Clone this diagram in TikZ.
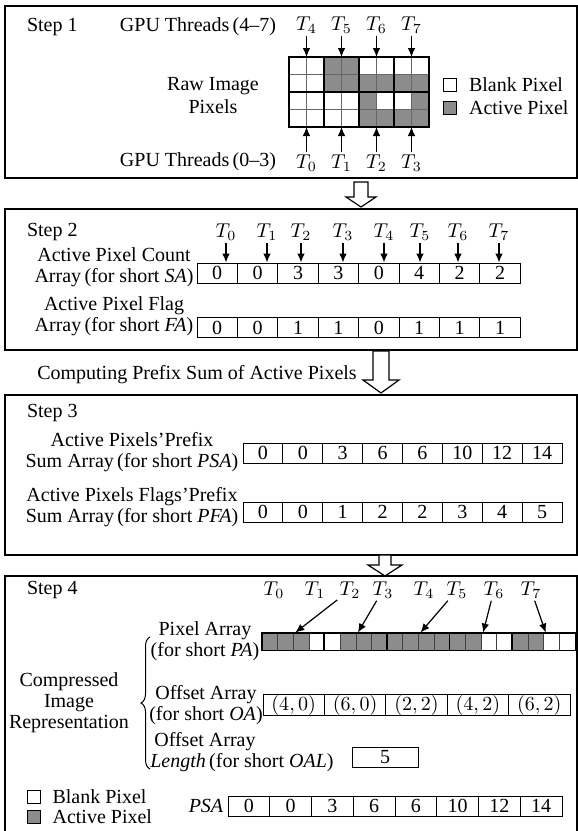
\documentclass[tikz,border=0pt]{standalone}
\usepackage{fontspec}
\setmainfont{Liberation Serif}
\usetikzlibrary{arrows.meta,positioning,decorations.pathreplacing}

\definecolor{pxgray}{RGB}{140,140,140}

\begin{document}
\begin{tikzpicture}[x=0.5pt, y=-0.5pt, font=\fontsize{10}{10.5}\selectfont,
  stepbox/.style={line width=0.8pt},
  numcell/.style={draw, line width=0.5pt, inner sep=0pt, minimum height=10pt},
  pxcell/.style={draw=black!75, line width=0.4pt, inner sep=0pt, minimum width=7.825pt, minimum height=8.5pt},
  tlab/.style={inner sep=1pt},
  arr/.style={-{Latex[length=4.5pt,width=3.8pt]}, line width=0.6pt},
  hollow/.style={draw, fill=white, line width=0.6pt, line join=miter},
  legsq/.style={draw, minimum size=6.5pt, inner sep=0pt, line width=0.5pt},
  lbl/.style={align=center, inner sep=0pt}]
\useasboundingbox (0,0) rectangle (578,831);

% Step 1
\draw[stepbox] (5,6) rectangle (577,178);
\node[anchor=west] (step1) at (20,27) {Step 1};
\node (gpuhi) at (198,27) {GPU Threads\,(4–7)};
\node (gpulo) at (198,162) {GPU Threads\,(0–3)};
\node[lbl, font=\fontsize{10}{11.5}\selectfont] (raw) at (213,96) {Raw Image\\Pixels};

\foreach \row [count=\r from 0] in {{0,0,1,1,0,0,0,0},{0,0,1,1,1,1,1,1},{0,0,0,0,1,0,0,1},{0,0,0,0,1,1,1,1}} {
  \foreach \v [count=\c from 0] in \row {
    \ifnum\v=1 \def\fc{pxgray}\else\def\fc{white}\fi
    \draw[draw=black!60, line width=0.4pt, fill=\fc] ({289+17.5*\c},{57+17.5*\r}) rectangle ++(17.5,17.5);
  }
}
\foreach \c in {0,...,3} {
  \draw[line width=1pt] ({289+35*\c},57) rectangle ++(35,35);
  \draw[line width=1pt] ({289+35*\c},92) rectangle ++(35,35);
  \coordinate (up\c) at ({306.5+35*\c},57);
  \coordinate (dn\c) at ({306.5+35*\c},127);
  \pgfmathtruncatemacro\k{\c+4}
  \node[tlab] (g\k) at ({306.5+35*\c},25) {$T_{\k}$};
  \node[tlab] (g\c) at ({306.5+35*\c},163) {$T_{\c}$};
  \draw[arr] (g\k) -- (up\c);
  \draw[arr] (g\c) -- (dn\c);
}

\node[legsq] (blank1) at (450,85) {};
\node[right=2.5pt of blank1] (blank1t) {Blank Pixel};
\node[legsq, fill=pxgray] (act1) at (450,108) {};
\node[right=2.5pt of act1] (act1t) {Active Pixel};

\coordinate (h1) at (361,182);
\draw[hollow] (h1) -- ++(7,0) -- ++(0,15) -- ++(8,0) -- ++(-15,10) -- ++(-15,-10) -- ++(8,0) -- ++(0,-15) -- cycle;

% Step 2
\draw[stepbox] (5,209) rectangle (577,350);
\node[anchor=west] (step2) at (20,232) {Step 2};
\node[lbl] (salab) at (114,267) {Active Pixel Count\\Array\,(for short \textit{SA})};
\node[lbl] (falab) at (114,316) {Active Pixel Flag\\Array\,(for short \textit{FA})};
\foreach \v [count=\i from 0] in {0,0,3,3,0,4,2,2}
  \node[numcell, minimum width=20.2pt] (sa\i) at ({217.2+40.4*\i},273) {\v};
\foreach \v [count=\i from 0] in {0,0,1,1,0,1,1,1}
  \node[numcell, minimum width=20.2pt] (fa\i) at ({217.2+40.4*\i},327.5) {\v};
\foreach \x [count=\i from 0] in {226,267,301,343,384,420,458,499} {
  \node[tlab] (u\i) at (\x,232) {$T_{\i}$};
  \draw[arr] (u\i) -- (u\i |- sa\i.north);
}

\node (cps) at (197,375) {Computing Prefix Sum of Active Pixels};
\coordinate (h2) at (381,351);
\draw[hollow] (h2) -- ++(8,0) -- ++(0,29) -- ++(10,0) -- ++(-18,13) -- ++(-18,-13) -- ++(10,0) -- ++(0,-29) -- cycle;

% Step 3
\draw[stepbox] (5,395) rectangle (577,555);
\node[anchor=west] (step3) at (20,413) {Step 3};
\node[lbl] (psalab) at (132,452) {Active Pixels’Prefix\\Sum Array\,(for short \textit{PSA})};
\node[lbl] (pfalab) at (132,507) {Active Pixels Flags’Prefix\\Sum Array\,(for short \textit{PFA})};
\foreach \v [count=\i from 0] in {0,0,3,6,6,10,12,14}
  \node[numcell, minimum width=19.94pt] (psa\i) at ({262.94+39.875*\i},453) {\v};
\foreach \v [count=\i from 0] in {0,0,1,2,2,3,4,5}
  \node[numcell, minimum width=19.94pt] (pfa\i) at ({262.94+39.875*\i},512) {\v};

\coordinate (h3) at (385,555);
\draw[hollow] (h3) -- ++(6,0) -- ++(0,10) -- ++(11,0) -- ++(-17,11) -- ++(-17,-11) -- ++(11,0) -- ++(0,-10) -- cycle;

% Step 4
\draw[stepbox] (5,576) rectangle (577,850);
\node[anchor=west] (step4) at (20,590) {Step 4};
\foreach \x [count=\i from 0] in {274,315,350,383,424,457,494,531}
  \node[tlab] (w\i) at (\x,590) {$T_{\i}$};
\foreach \v [count=\k from 0] in {1,1,1,0,0,1,1,1,1,1,1,1,1,1,0,0,1,1,0,0} {
  \ifnum\v=1 \def\fc{pxgray}\else\def\fc{white}\fi
  \node[pxcell, fill=\fc] (p\k) at ({269.825+15.65*\k},641.5) {};
}
\draw[line width=0.9pt] (p0.north west) rectangle (p19.south east);
\foreach \k in {4,8,12,16}
  \draw[line width=0.9pt] (p\k.north west) -- (p\k.south west);
\draw[arr] (w2) -- ([xshift=1.2pt]p2.north west);
\draw[arr] (w3) -- ([xshift=1.2pt]p6.north west);
\draw[arr] (w5) -- ([xshift=1.2pt]p10.north west);
\draw[arr] (w6) -- ([xshift=1.2pt]p14.north west);
\draw[arr] (w7) -- ([xshift=1.2pt]p18.north west);

\node[lbl] (cir) at (69,703) {Compressed\\Image\\Representation};
\coordinate (brtop) at (150,637);
\coordinate (brbot) at (150,769);
\draw[decorate, decoration={brace, amplitude=4.5pt}, line width=0.5pt] (brbot) -- (brtop);

\node[lbl] (palab) at (205,641) {Pixel Array\\(for short \textit{PA})};
\node[lbl] (oalab) at (206,705) {Offset Array\\(for short \textit{OA})};
\foreach \v [count=\i from 0] in {{$(4,0)$},{$(6,0)$},{$(2,2)$},{$(4,2)$},{$(6,2)$}}
  \node[numcell, minimum width=30.7pt, minimum height=10.5pt] (oa\i) at ({293.7+61.4*\i},705) {\v};
\node[lbl, align=left] (oallab) at (242,752) {\hspace*{2pt}Offset Array\\\textit{Length}\,(for short \textit{OAL})};
\node[numcell, minimum width=33pt] (oal) at (385,757) {5};

\node[legsq] (blank4) at (33.5,797) {};
\node[right=2.5pt of blank4] (blank4t) {Blank Pixel};
\node[legsq, fill=pxgray] (act4) at (33.5,817) {};
\node[right=2.5pt of act4] (act4t) {Active Pixel};

\node (psa4lab) at (206,806) {\textit{PSA}};
\foreach \v [count=\i from 0] in {0,0,3,6,6,10,12,14}
  \node[numcell, minimum width=20.875pt] (q\i) at ({248.875+41.75*\i},806) {\v};
\end{tikzpicture}
\end{document}
